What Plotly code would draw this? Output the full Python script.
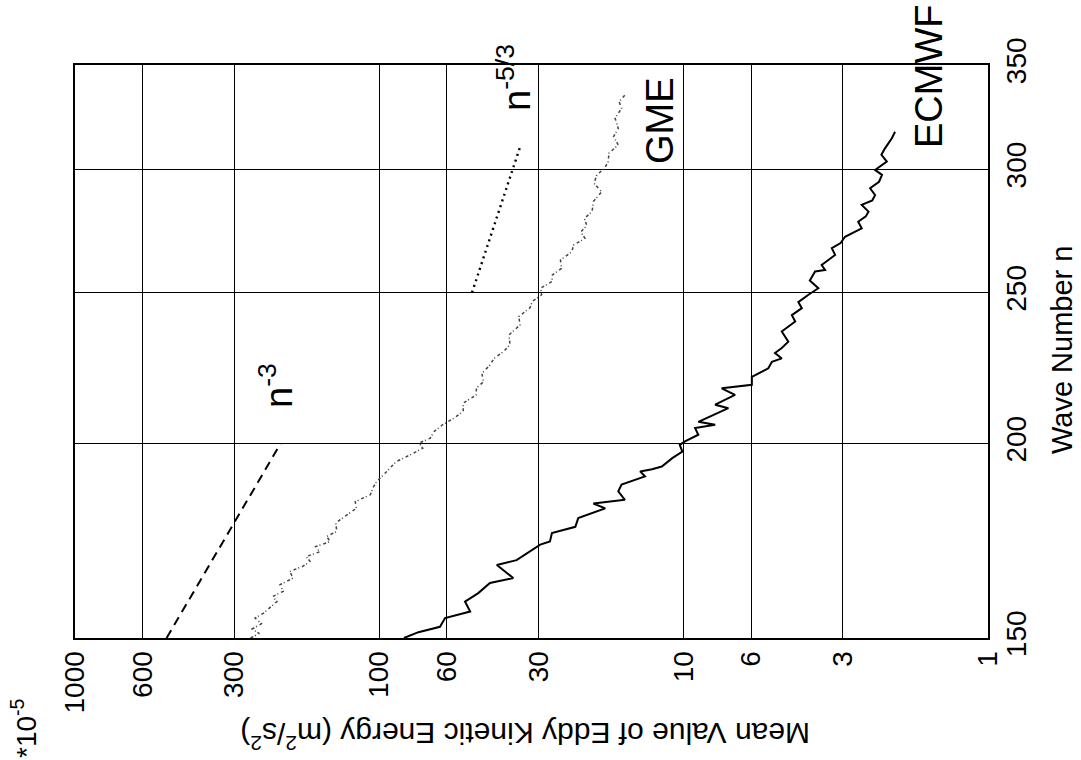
import math
import plotly.graph_objects as go

# Wave numbers and mean eddy kinetic energy (units of 1e-5 m^2/s^2)
ecmwf_n = [150.0, 151.3, 152.5, 154.5, 156.0, 158.3, 160.3, 162.7, 163.9, 167.1,
           168.3, 170.8, 172.2, 173.0, 175.2, 176.8, 179.1, 181.7, 183.0, 184.0,
           186.3, 188.2, 190.5, 191.9, 192.5, 193.3, 195.7, 197.6, 199.6, 200.6,
           202.6, 204.6, 205.6, 206.5, 210.7, 211.8, 214.9, 217.0, 218.1, 220.7,
           223.5, 225.7, 226.8, 228.6, 230.3, 232.5, 236.0, 239.5, 241.8, 244.3,
           246.5, 249.2, 251.6, 254.5, 257.9, 258.5, 260.4, 264.3, 267.0, 269.0,
           271.5, 274.9, 277.6, 279.8, 281.8, 284.6, 286.5, 288.8, 291.7, 294.5,
           297.5, 299.7, 303.4, 306.5, 309.4, 314.1, 317.1]
ecmwf_e = [83.0, 74.4, 63.2, 60.8, 50.3, 52.3, 47.3, 43.3, 36.3, 41.1,
           35.4, 31.6, 29.6, 27.5, 27.1, 22.7, 22.2, 18.1, 19.8, 15.6,
           16.4, 16.0, 13.4, 13.9, 12.7, 11.8, 10.9, 10.1, 10.3, 9.9,
           8.95, 9.17, 7.88, 8.95, 7.13, 7.88, 6.78, 7.50, 5.97, 5.97,
           5.27, 5.13, 4.76, 5.01, 4.76, 4.53, 4.76, 4.30, 4.41, 4.09,
           4.20, 3.89, 3.61, 3.85, 3.70, 3.43, 3.52, 3.18, 3.26, 3.05,
           2.95, 2.60, 2.67, 2.52, 2.47, 2.60, 2.40, 2.35, 2.44, 2.28,
           2.23, 2.35, 2.15, 2.24, 2.18, 2.07, 2.02]

gme_n = [150.0, 151.0, 152.0, 153.2, 154.5, 155.6, 157.0, 158.3, 159.5, 160.7,
         162.3, 163.9, 165.5, 166.8, 168.0, 169.2, 170.4, 171.7, 173.0, 174.3,
         175.6, 177.8, 179.9, 181.7, 183.5, 185.4, 187.3, 189.1, 190.9, 192.8,
         194.7, 196.7, 198.6, 200.1, 201.6, 203.6, 205.6, 207.6, 209.7, 212.3,
         214.9, 217.0, 219.1, 221.8, 224.6, 226.8, 229.1, 231.4, 234.8, 238.3,
         241.3, 244.4, 246.8, 249.2, 251.6, 254.1, 256.6, 259.1, 262.3, 265.6,
         268.2, 270.9, 273.4, 276.0, 278.9, 281.8, 286.0, 290.2, 293.8, 297.5,
         300.4, 303.4, 307.2, 311.0, 314.8, 318.7, 323.5, 328.3, 331.5, 334.8]
gme_e = [265.0, 248.0, 262.0, 244.0, 256.0, 240.0, 228.0, 217.0, 224.0, 207.0,
         212.0, 192.0, 197.0, 178.0, 169.0, 174.0, 157.0, 162.0, 145.0, 149.0,
         138.0, 139.0, 128.0, 119.0, 120.0, 107.0, 105.0, 102.0, 97.0, 92.0,
         88.0, 79.0, 72.0, 74.0, 68.0, 66.0, 62.0, 57.0, 53.0, 53.0,
         48.0, 48.0, 45.5, 46.0, 43.3, 42.0, 39.1, 37.2, 37.5, 34.5,
         34.8, 32.0, 31.4, 29.3, 29.5, 27.1, 27.0, 25.2, 25.4, 23.3,
         23.0, 21.1, 21.8, 20.8, 21.2, 20.0, 19.8, 18.6, 19.7, 19.3,
         18.2, 17.7, 17.6, 16.4, 17.0, 16.4, 16.8, 16.0, 16.3, 15.6]

# Reference slopes
slope3_n = [150.0, 200.0]
slope3_e = [500.0, 211.0]
slope53_n = [250.0, 311.0]
slope53_e = [49.6, 34.3]

energy_ticks = [1, 3, 6, 10, 30, 60, 100, 300, 600, 1000]
wave_ticks = [150, 200, 250, 300, 350]

FONT = "Liberation Sans, Arial, Helvetica, sans-serif"
W, H = 1081, 760
L, R, T, B = 75, 988, 65, 638

fig = go.Figure()

fig.add_trace(go.Scatter(x=slope3_e, y=slope3_n, mode="lines",
                         line=dict(color="black", width=2, dash="9px,6px"),
                         showlegend=False, hoverinfo="skip"))
fig.add_trace(go.Scatter(x=slope53_e, y=slope53_n, mode="lines",
                         line=dict(color="black", width=2.4, dash="2px,4px"),
                         showlegend=False, hoverinfo="skip"))
fig.add_trace(go.Scatter(x=gme_e, y=gme_n, mode="lines", name="GME",
                         line=dict(color="#444444", width=1.5, dash="3px,2px,1px,3px"),
                         showlegend=False))
fig.add_trace(go.Scatter(x=ecmwf_e, y=ecmwf_n, mode="lines", name="ECMWF",
                         line=dict(color="black", width=2),
                         showlegend=False))

axis_common = dict(
    type="log", showgrid=True, gridcolor="black", gridwidth=1.4,
    showline=True, linecolor="black", linewidth=2, mirror=True,
    ticks="", tickangle=-90, zeroline=False,
    tickfont=dict(family=FONT, size=28, color="black"),
)

fig.update_xaxes(
    **axis_common,
    range=[3, 0],
    tickmode="array", tickvals=energy_ticks,
    ticktext=[str(v) for v in energy_ticks],
    ticklabelstandoff=0,
)
fig.update_yaxes(
    **axis_common,
    side="right",
    range=[math.log10(150), math.log10(350)],
    tickmode="array", tickvals=wave_ticks,
    ticktext=[str(v) for v in wave_ticks],
    ticklabelstandoff=2,
)


def px(xp, yp):
    return dict(x=(xp - L) / (R - L), y=(B - yp) / (B - T),
                xref="paper", yref="paper", xanchor="center", yanchor="middle",
                showarrow=False)


def note(text, xp, yp, size, angle):
    fig.add_annotation(text=text, textangle=angle,
                       font=dict(family=FONT, size=size, color="black"),
                       **px(xp, yp))


note("Wave Number n", 1062, 350, 29, -90)
note("Mean Value of Eddy Kinetic Energy (m<sup>2</sup>/s<sup>2</sup>)", 525, 736, 30, 180)
note("*10<sup>-5</sup>", 24, 728, 28, -90)
note("ECMWF", 929, 76, 38, -90)
note("GME", 660, 121, 38, -90)
note("n<sup>-3</sup>", 276, 386, 38, -90)
note("n<sup>-5/3</sup>", 514, 78, 38, -90)

fig.update_layout(
    width=W, height=H,
    margin=dict(l=L, r=W - R, t=T, b=H - B),
    plot_bgcolor="white", paper_bgcolor="white",
    font=dict(family=FONT, color="black"),
    showlegend=False,
)

fig.write_html("out.html")
